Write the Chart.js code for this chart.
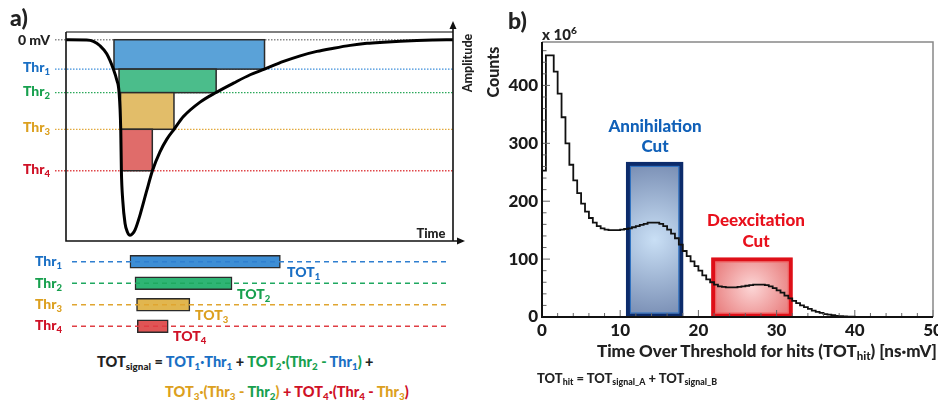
<!DOCTYPE html>
<html>
<head>
<meta charset="utf-8">
<script src="https://cdn.jsdelivr.net/npm/chart.js@4.4.1/dist/chart.umd.min.js"></script>
<style>
body { margin: 0; width: 938px; height: 404px; overflow: hidden; background: #fff; position: relative; font-family: Lato, "Open Sans", sans-serif; font-weight: 900; }
canvas { position: absolute; }
.t { position: absolute; white-space: nowrap; line-height: 1; }
.c { transform: translate(-50%, -50%); }
.r { transform: translate(-100%, -50%); }
.l { transform: translate(0, -50%); }
sub { font-size: 68%; vertical-align: -0.28em; line-height: 0; }
sup { font-size: 68%; vertical-align: 0.55em; line-height: 0; }
.bl { color: #1a6fc4; } .gr { color: #17a04e; } .ye { color: #dca020; } .re { color: #cf1126; } .bk { color: #222; }
</style>
</head>
<body>

<canvas id="pulse" width="480" height="245" style="left:0;top:0"></canvas>
<canvas id="tot" width="480" height="100" style="left:0;top:245px"></canvas>
<canvas id="hist" width="480" height="404" style="left:480px;top:0"></canvas>

<!-- panel a texts -->
<div class="t bk" style="left:10px;top:17px;font-size:23px;transform:translate(0,-50%)">a)</div>
<div class="t bk r" style="left:50px;top:40px;font-size:14px">0 mV</div>
<div class="t bl r" style="left:50px;top:67px;font-size:14px">Thr<sub>1</sub></div>
<div class="t gr r" style="left:50px;top:90.5px;font-size:14px">Thr<sub>2</sub></div>
<div class="t ye r" style="left:50px;top:127px;font-size:14px">Thr<sub>3</sub></div>
<div class="t re r" style="left:50px;top:169px;font-size:14px">Thr<sub>4</sub></div>
<div class="t bk c" style="left:431px;top:233px;font-size:13px">Time</div>
<div class="t bk c" style="left:468px;top:63px;font-size:12.5px;transform:translate(-50%,-50%) rotate(-90deg)">Amplitude</div>

<div class="t bl r" style="left:62px;top:261px;font-size:14px">Thr<sub>1</sub></div>
<div class="t gr r" style="left:62px;top:282.5px;font-size:14px">Thr<sub>2</sub></div>
<div class="t ye r" style="left:62px;top:304px;font-size:14px">Thr<sub>3</sub></div>
<div class="t re r" style="left:62px;top:325px;font-size:14px">Thr<sub>4</sub></div>
<div class="t bl l" style="left:287px;top:272px;font-size:14px">TOT<sub>1</sub></div>
<div class="t gr l" style="left:237px;top:293.5px;font-size:14px">TOT<sub>2</sub></div>
<div class="t ye l" style="left:195px;top:314.5px;font-size:14px">TOT<sub>3</sub></div>
<div class="t re l" style="left:173px;top:335.5px;font-size:14px">TOT<sub>4</sub></div>

<div class="t l" style="left:97px;top:362px;font-size:14.5px"><span class="bk">TOT<sub>signal</sub> = </span><span class="bl">TOT<sub>1</sub>·Thr<sub>1</sub></span><span class="bk"> + </span><span class="gr">TOT<sub>2</sub>·(Thr<sub>2</sub> - </span><span class="bl">Thr<sub>1</sub></span><span class="gr">)</span><span class="bk"> +</span></div>
<div class="t l" style="left:165px;top:392px;font-size:14.5px"><span class="ye">TOT<sub>3</sub>·(Thr<sub>3</sub> - </span><span class="gr">Thr<sub>2</sub></span><span class="ye">)</span><span class="re"> + TOT<sub>4</sub>·(Thr<sub>4</sub> - </span><span class="ye">Thr<sub>3</sub></span><span class="re">)</span></div>

<!-- panel b texts -->
<div class="t bk" style="left:508px;top:20px;font-size:23px;transform:translate(0,-50%)">b)</div>
<div class="t bk l" style="left:542px;top:34px;font-size:15px">x 10<sup>6</sup></div>
<div class="t bk c" style="left:493px;top:72px;font-size:16px;transform:translate(-50%,-50%) rotate(-90deg)">Counts</div>
<div class="t c" style="left:655px;top:125px;font-size:17px;color:#1060b8">Annihilation</div>
<div class="t c" style="left:655px;top:145px;font-size:17px;color:#1060b8">Cut</div>
<div class="t c" style="left:756px;top:219px;font-size:17px;color:#e8101c">Deexcitation</div>
<div class="t c" style="left:756px;top:240px;font-size:17px;color:#e8101c">Cut</div>
<div class="t bk l" style="left:597px;top:350px;font-size:17px">Time Over Threshold for hits (TOT<sub>hit</sub>) [ns·mV]</div>
<div class="t bk l" style="left:537px;top:378px;font-size:13px">TOT<sub>hit</sub> = TOT<sub>signal_A</sub> + TOT<sub>signal_B</sub></div>

<script>
// ---- panel a: pulse shape (time in arbitrary units 0..100, amplitude in % of peak)
var pulseTime = [0, 5.35, 7.07, 8.79, 10.52, 12.24, 13.10, 13.71, 14.14, 14.31, 14.66, 15.26, 15.86, 16.55, 17.24, 17.84, 19.14, 20.86, 22.33, 24.31, 26.03, 27.93, 30.34, 34.65, 38.79, 43.27, 47.59, 51.29, 56.2, 60.52, 64.83, 69.14, 73.45, 77.76, 82.07, 86.38, 90.69, 95, 100];
var pulseAmp = [0, -0.1, -0.8, -3, -7, -14.6, -19.9, -26.2, -44.5, -65.1, -79.7, -91.3, -95.5, -97.2, -96.3, -94.5, -87, -75, -65.1, -55.6, -49.5, -44.5, -38.2, -31, -26.2, -21.6, -17.4, -14.6, -10.8, -8, -5.8, -4.2, -2.8, -1.8, -1.2, -0.7, -0.35, -0.15, 0];

// thresholds and where the pulse crosses them
var thrNames = ['Thr1', 'Thr2', 'Thr3', 'Thr4'];
var thrLevel = [-14.6, -26.3, -44.5, -65.1];
var thrCrossDown = [12.4, 13.7, 14.1, 14.3];
var thrCrossUp = [51.3, 38.8, 27.9, 22.3];

// ---- panel b: TOT histogram, bins of 0.5 ns·mV, counts x10^6
var binStart = 0;
var binWidth = 0.5;
var hitCounts = [
  253, 452, 452, 424, 386, 345, 300, 263, 236, 214,
  196, 182, 171, 163, 157, 153, 151, 150, 150, 150,
  151, 152, 153, 155, 157, 159, 161, 163, 163, 163,
  161, 157, 151, 144, 136, 125, 114, 105, 96, 88,
  80, 72, 65, 60, 56, 53, 52, 51, 51, 51,
  52, 53, 54, 55, 56, 56, 56, 55, 53, 50,
  46, 42, 37, 32, 28, 24, 20, 17, 14, 11,
  9, 7, 5, 4, 3, 2, 1.5, 1, 0.6, 0.4,
  0.2, 0.1, 0, 0, 0, 0, 0, 0, 0, 0,
  0, 0, 0, 0, 0, 0, 0, 0, 0, 0
];
var xTicks = [0, 10, 20, 30, 40, 50];
var yTicks = [0, 100, 200, 300, 400];

// cut windows [xmin, xmax, ymax]
var annihilationCut = [10.8, 18.0, 267];
var deexcitationCut = [21.7, 32.0, 102];

var thrColors = ['#3c8edb', '#2aa85a', '#e2a93c', '#e0474a'];
var rectColors = ['#5aa2d8', '#4bbd8b', '#e2bd69', '#e06c6a'];
var barColors = ['#3d8ed5', '#2eb574', '#e1b64f', '#e05555'];
var dashColors = ['#2f7fd0', '#1fa860', '#e0a530', '#e03e44'];

// Pulse decorations
var pulseDecor = {
  id: 'pulseDecor',
  beforeDatasetsDraw: function(chart) {
    var ctx = chart.ctx, xs = chart.scales.x, ys = chart.scales.y, a = chart.chartArea;
    ctx.save();
    ctx.lineWidth = 1.3;
    ctx.setLineDash([1.5, 1.5]);
    ctx.strokeStyle = '#8a8a8a';
    ctx.beginPath();
    ctx.moveTo(55, ys.getPixelForValue(0));
    ctx.lineTo(a.right, ys.getPixelForValue(0));
    ctx.stroke();
    for (var i = 0; i < thrLevel.length; i++) {
      var y = ys.getPixelForValue(thrLevel[i]);
      ctx.strokeStyle = thrColors[i];
      ctx.beginPath();
      ctx.moveTo(55, y);
      ctx.lineTo(a.right, y);
      ctx.stroke();
    }
    ctx.setLineDash([]);
    for (var j = 0; j < thrLevel.length; j++) {
      var top = ys.getPixelForValue(j == 0 ? 0 : thrLevel[j - 1]);
      var bot = ys.getPixelForValue(thrLevel[j]);
      var x1 = xs.getPixelForValue(thrCrossDown[j]);
      var x2 = xs.getPixelForValue(thrCrossUp[j]);
      ctx.fillStyle = rectColors[j];
      ctx.fillRect(x1, top, x2 - x1, bot - top);
      ctx.strokeStyle = '#2b2b2b';
      ctx.lineWidth = 1.5;
      ctx.strokeRect(x1, top, x2 - x1, bot - top);
    }
    ctx.restore();
  },
  afterDraw: function(chart) {
    var ctx = chart.ctx, a = chart.chartArea;
    ctx.save();
    ctx.lineWidth = 1.6;
    ctx.strokeStyle = '#555';
    ctx.beginPath();
    ctx.moveTo(a.left, a.top);
    ctx.lineTo(a.right, a.top);
    ctx.stroke();
    ctx.strokeStyle = '#111';
    ctx.beginPath();
    ctx.moveTo(a.left, a.top);
    ctx.lineTo(a.left, a.bottom);
    ctx.lineTo(a.right + 10, a.bottom);
    ctx.moveTo(a.right, a.bottom);
    ctx.lineTo(a.right, 24);
    ctx.stroke();
    ctx.fillStyle = '#111';
    ctx.beginPath();
    ctx.moveTo(a.right + 12, a.bottom);
    ctx.lineTo(a.right + 4, a.bottom - 3.5);
    ctx.lineTo(a.right + 4, a.bottom + 3.5);
    ctx.fill();
    ctx.beginPath();
    ctx.moveTo(a.right, 21);
    ctx.lineTo(a.right - 3.5, 29);
    ctx.lineTo(a.right + 3.5, 29);
    ctx.fill();
    ctx.restore();
  }
};

var pulseChart = new Chart(document.getElementById('pulse'), {
  type: 'scatter',
  data: {
    datasets: [{
      data: pulseTime.map(function(t, i) { return { x: t, y: pulseAmp[i] }; }),
      showLine: true,
      borderColor: '#000',
      borderWidth: 3,
      pointRadius: 0,
      cubicInterpolationMode: 'monotone',
      clip: false
    }]
  },
  options: {
    responsive: false,
    animation: false,
    layout: { padding: { left: 66, right: 27, top: 32, bottom: 4 } },
    plugins: { legend: { display: false }, tooltip: { enabled: false } },
    scales: {
      x: { type: 'linear', min: 0, max: 100, display: false },
      y: { type: 'linear', min: -100, max: 3.84, display: false }
    }
  },
  plugins: [pulseDecor]
});

// TOT bars with dashed threshold lines
var dashPlugin = {
  id: 'dashes',
  afterDatasetsDraw: function(chart) {
    var ctx = chart.ctx, ys = chart.scales.y;
    ctx.save();
    ctx.lineWidth = 1.3;
    ctx.setLineDash([5, 4]);
    for (var i = 0; i < thrNames.length; i++) {
      var y = ys.getPixelForValue(i);
      ctx.strokeStyle = dashColors[i];
      ctx.beginPath();
      ctx.moveTo(72, y);
      ctx.lineTo(447, y);
      ctx.stroke();
    }
    ctx.restore();
  }
};

var totChart = new Chart(document.getElementById('tot'), {
  type: 'bar',
  data: {
    labels: thrNames,
    datasets: [{
      data: thrNames.map(function(n, i) { return [thrCrossDown[i], thrCrossUp[i]]; }),
      backgroundColor: barColors,
      borderColor: '#2b2b2b',
      borderWidth: 1.5,
      borderSkipped: false,
      barThickness: 13
    }]
  },
  options: {
    indexAxis: 'y',
    responsive: false,
    animation: false,
    layout: { padding: { left: 82, right: 11.3, top: 6, bottom: 8 } },
    plugins: { legend: { display: false }, tooltip: { enabled: false } },
    scales: {
      x: { type: 'linear', min: 0, max: 100, display: false },
      y: { display: false }
    }
  },
  plugins: [dashPlugin]
});

// Histogram
var histPoints = hitCounts.map(function(c, i) { return { x: binStart + i * binWidth, y: c }; });
histPoints.push({ x: binStart + hitCounts.length * binWidth, y: hitCounts[hitCounts.length - 1] });

var tickFont = { family: 'Lato', weight: '900', size: 17 };

var histDecor = {
  id: 'histDecor',
  beforeDatasetsDraw: function(chart) {
    var ctx = chart.ctx, xs = chart.scales.x, ys = chart.scales.y;
    ctx.save();
    function box(cut, inner, outer, edge, edge2) {
      var x1 = xs.getPixelForValue(cut[0]), x2 = xs.getPixelForValue(cut[1]);
      var y1 = ys.getPixelForValue(cut[2]), y2 = ys.getPixelForValue(0);
      var cx = (x1 + x2) / 2, cy = y1 + (y2 - y1) * 0.5;
      var g = ctx.createRadialGradient(cx, cy, 0, cx, cy, Math.max(x2 - x1, y2 - y1) * 0.6);
      g.addColorStop(0, inner);
      g.addColorStop(1, outer);
      ctx.fillStyle = g;
      ctx.fillRect(x1, y1, x2 - x1, y2 - y1);
      ctx.lineWidth = 4;
      ctx.strokeStyle = edge;
      ctx.strokeRect(x1 + 1.5, y1 + 1.5, x2 - x1 - 3, y2 - y1 - 3);
      ctx.lineWidth = 1;
      ctx.strokeStyle = edge2;
      ctx.strokeRect(x1 + 4, y1 + 4, x2 - x1 - 8, y2 - y1 - 8);
    }
    box(annihilationCut, '#c9dff5', '#6a7fa8', '#0c2b6b', '#2a6fc0');
    box(deexcitationCut, '#fcd6d6', '#e67272', '#de0f18', '#f06060');
    ctx.restore();
  },
  afterDraw: function(chart) {
    var ctx = chart.ctx, xs = chart.scales.x, ys = chart.scales.y, a = chart.chartArea;
    ctx.save();
    ctx.strokeStyle = '#666';
    ctx.lineWidth = 1;
    for (var v = 0; v <= 50; v += 2) {
      var px = xs.getPixelForValue(v);
      var len = (v % 10 == 0) ? 7 : 4;
      ctx.beginPath();
      ctx.moveTo(px, a.bottom);
      ctx.lineTo(px, a.bottom - len);
      ctx.stroke();
    }
    for (var w = 0; w <= 460; w += 20) {
      var py = ys.getPixelForValue(w);
      var ln = (w % 100 == 0) ? 8 : 4.5;
      ctx.beginPath();
      ctx.moveTo(a.left, py);
      ctx.lineTo(a.left + ln, py);
      ctx.stroke();
    }
    ctx.strokeStyle = '#888';
    ctx.lineWidth = 1.5;
    ctx.beginPath();
    ctx.moveTo(a.left, a.top);
    ctx.lineTo(a.right, a.top);
    ctx.lineTo(a.right, a.bottom);
    ctx.stroke();
    ctx.strokeStyle = '#111';
    ctx.lineWidth = 2;
    ctx.beginPath();
    ctx.moveTo(a.left, a.top);
    ctx.lineTo(a.left, a.bottom);
    ctx.lineTo(a.right, a.bottom);
    ctx.stroke();
    ctx.restore();
  }
};

var histChart = new Chart(document.getElementById('hist'), {
  type: 'line',
  data: {
    datasets: [{
      data: histPoints,
      stepped: true,
      borderColor: '#111',
      borderWidth: 1.8,
      pointRadius: 0,
      fill: false
    }]
  },
  options: {
    responsive: false,
    animation: false,
    layout: { padding: { left: 0, right: 27, top: 42, bottom: 0 } },
    plugins: { legend: { display: false }, tooltip: { enabled: false } },
    scales: {
      x: {
        type: 'linear', min: 0, max: 50,
        afterBuildTicks: function(s) { s.ticks = xTicks.map(function(v) { return { value: v }; }); },
        afterFit: function(s) { s.height = 87; },
        ticks: { font: tickFont, color: '#1a1a1a', padding: 3, maxRotation: 0 },
        grid: { display: false, drawTicks: false, tickLength: 0 },
        border: { display: false }
      },
      y: {
        type: 'linear', min: 0, max: 475,
        afterBuildTicks: function(s) { s.ticks = yTicks.map(function(v) { return { value: v }; }); },
        afterFit: function(s) { s.width = 62; },
        ticks: { font: tickFont, color: '#1a1a1a', padding: 4 },
        grid: { display: false, drawTicks: false, tickLength: 0 },
        border: { display: false }
      }
    }
  },
  plugins: [histDecor]
});
</script>
</body>
</html>
